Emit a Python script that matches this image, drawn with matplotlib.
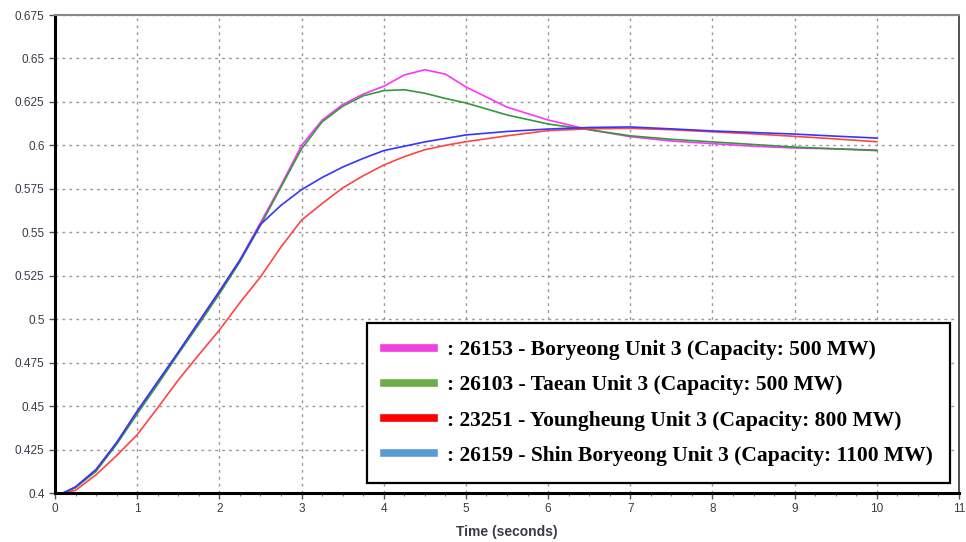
import matplotlib
matplotlib.use('Agg')
import matplotlib.pyplot as plt
from matplotlib.lines import Line2D
import numpy as np

# time axis (seconds), shared by all four units
t = [0.1, 0.25, 0.5, 0.75, 1, 1.25, 1.5, 1.75, 2, 2.25, 2.5, 2.75, 3, 3.25, 3.5,
     3.75, 4, 4.25, 4.5, 4.75, 5, 5.5, 6, 6.5, 7, 7.5, 8, 8.5, 9, 9.5, 10]

boryeong = [0.400, 0.4035, 0.4135, 0.429, 0.447, 0.464, 0.481, 0.4985, 0.516, 0.534,
            0.5555, 0.577, 0.600, 0.6145, 0.6235, 0.6295, 0.634, 0.6405, 0.6435, 0.641,
            0.6336, 0.622, 0.6146, 0.609, 0.605, 0.6025, 0.601, 0.5995, 0.5985, 0.598, 0.5973]
taean = [0.400, 0.403, 0.4125, 0.428, 0.4455, 0.4625, 0.480, 0.497, 0.5145, 0.533,
         0.554, 0.576, 0.598, 0.6135, 0.6225, 0.6285, 0.6315, 0.632, 0.630, 0.627,
         0.6244, 0.6175, 0.6123, 0.609, 0.6055, 0.6035, 0.602, 0.6005, 0.599, 0.598, 0.597]
youngheung = [0.400, 0.4015, 0.4105, 0.4215, 0.4335, 0.449, 0.465, 0.4795, 0.4937, 0.5095,
              0.5243, 0.5415, 0.557, 0.5665, 0.5755, 0.5825, 0.5887, 0.5935, 0.5975, 0.600,
              0.6021, 0.6055, 0.6085, 0.6095, 0.6098, 0.609, 0.6078, 0.6066, 0.6052, 0.6037, 0.6021]
shin_boryeong = [0.400, 0.4035, 0.4135, 0.429, 0.447, 0.464, 0.481, 0.4985, 0.516, 0.534,
                 0.5545, 0.5655, 0.5745, 0.5815, 0.5875, 0.5925, 0.597, 0.5995, 0.602, 0.604,
                 0.606, 0.608, 0.6094, 0.6103, 0.6106, 0.6095, 0.6083, 0.6074, 0.6065, 0.6053, 0.6042]

labels = [': 26153 - Boryeong Unit 3 (Capacity: 500 MW)',
          ': 26103 - Taean Unit 3 (Capacity: 500 MW)',
          ': 23251 - Youngheung Unit 3 (Capacity: 800 MW)',
          ': 26159 - Shin Boryeong Unit 3 (Capacity: 1100 MW)']

yticks = np.arange(0.4, 0.676, 0.025)
ytick_labels = ['0.4', '0.425', '0.45', '0.475', '0.5', '0.525', '0.55', '0.575',
                '0.6', '0.625', '0.65', '0.675']

fig = plt.figure(figsize=(9.66, 5.42), dpi=100)
ax = fig.add_axes([0.0569, 0.0904, 0.9359, 0.8819])

ax.plot(t, boryeong, color='#ff33ff', lw=1.2)
ax.plot(t, taean, color='#33993a', lw=1.2)
ax.plot(t, youngheung, color='#ff4444', lw=1.2)
ax.plot(t, shin_boryeong, color='#3535ff', lw=1.2)

ax.set_xlim(0, 11)
ax.set_ylim(0.4, 0.675)
ax.set_xticks(range(12))
ax.set_xticks(np.arange(0, 11.01, 0.25), minor=True)
ax.set_yticks(yticks)
ax.set_yticklabels(ytick_labels)
ax.grid(True, which='major', color='#999999', linestyle=(0, (2, 3)), lw=1)
ax.tick_params(which='major', direction='out', length=4, width=1, labelsize=8.5,
               labelcolor='#3a3a4a', color='#555555')
ax.tick_params(which='minor', direction='out', length=2, width=0.8, color='#777777')
ax.tick_params(axis='y', which='minor', left=False)
for lab in ax.get_xticklabels() + ax.get_yticklabels():
    lab.set_family('Liberation Sans')

ax.spines['left'].set_linewidth(2.2)
ax.spines['bottom'].set_linewidth(2.2)
ax.spines['top'].set_color('#888888')
ax.spines['top'].set_linewidth(1.5)
ax.spines['right'].set_color('#444444')
ax.spines['right'].set_linewidth(1.3)

ax.set_xlabel('Time (seconds)', fontsize=10, fontweight='bold', color='#3a3a4a',
              family='Liberation Sans', labelpad=7)

# legend with thick swatches (pasted style box)
handles = [Line2D([0], [0], color=c, lw=5.5) for c in
           ['#f040e0', '#70ad47', '#ff0000', '#5b9bd5']]
leg = ax.legend(handles, labels, loc='lower right', bbox_to_anchor=(0.99, 0.021),
                borderaxespad=0, frameon=True, fancybox=False, framealpha=1,
                edgecolor='black', handlelength=2.3, handletextpad=0.6,
                labelspacing=0.7, borderpad=0.8,
                prop={'family': 'Liberation Serif', 'weight': 'bold', 'size': 15.5})
leg.get_frame().set_linewidth(1.6)

plt.savefig('out.png', dpi=100)
